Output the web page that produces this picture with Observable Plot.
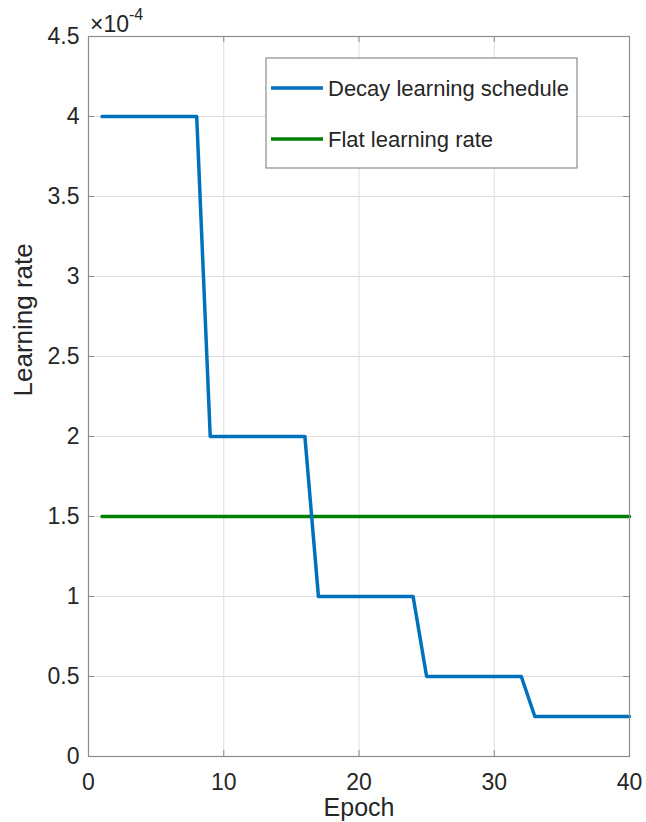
<!DOCTYPE html>
<html>
<head>
<meta charset="utf-8">
<script src="https://cdn.jsdelivr.net/npm/d3@7"></script>
<script src="https://cdn.jsdelivr.net/npm/@observablehq/plot@0.6"></script>
<style>
  html, body { margin: 0; padding: 0; background: #fff; }
  #chart svg { display: block; }
</style>
</head>
<body>
<div id="chart"></div>
<script>
// ---- data ----
const epochs = [1,2,3,4,5,6,7,8,9,10,11,12,13,14,15,16,17,18,19,20,
                21,22,23,24,25,26,27,28,29,30,31,32,33,34,35,36,37,38,39,40];
const decayRate = [
  4e-4,4e-4,4e-4,4e-4,4e-4,4e-4,4e-4,4e-4,
  2e-4,2e-4,2e-4,2e-4,2e-4,2e-4,2e-4,2e-4,
  1e-4,1e-4,1e-4,1e-4,1e-4,1e-4,1e-4,1e-4,
  0.5e-4,0.5e-4,0.5e-4,0.5e-4,0.5e-4,0.5e-4,0.5e-4,0.5e-4,
  0.25e-4,0.25e-4,0.25e-4,0.25e-4,0.25e-4,0.25e-4,0.25e-4,0.25e-4
];
const flatRate = [
  1.5e-4,1.5e-4,1.5e-4,1.5e-4,1.5e-4,1.5e-4,1.5e-4,1.5e-4,1.5e-4,1.5e-4,
  1.5e-4,1.5e-4,1.5e-4,1.5e-4,1.5e-4,1.5e-4,1.5e-4,1.5e-4,1.5e-4,1.5e-4,
  1.5e-4,1.5e-4,1.5e-4,1.5e-4,1.5e-4,1.5e-4,1.5e-4,1.5e-4,1.5e-4,1.5e-4,
  1.5e-4,1.5e-4,1.5e-4,1.5e-4,1.5e-4,1.5e-4,1.5e-4,1.5e-4,1.5e-4,1.5e-4
];
const seriesNames = ["Decay learning schedule", "Flat learning rate"];
const seriesColors = ["#0072BD", "#008000"];
const xTicks = [0, 10, 20, 30, 40];
const yTicks = [0, 0.5e-4, 1e-4, 1.5e-4, 2e-4, 2.5e-4, 3e-4, 3.5e-4, 4e-4, 4.5e-4];
const xLabel = "Epoch";
const yLabel = "Learning rate";
const expBase = "\u00d710";
const expPower = "-4";

// ---- table built from arrays ----
const decayData = epochs.map((e, i) => ({epoch: e, rate: decayRate[i]}));
const flatData = epochs.map((e, i) => ({epoch: e, rate: flatRate[i]}));

// ---- layout ----
const W = 646, H = 822;
const mL = 88, mR = 17, mT = 36, mB = 66;
const plotW = W - mL - mR, plotH = H - mT - mB;
const tickLen = 6;
const axisColor = "#8c8c8c";
const textColor = "#262626";
const font = "'Liberation Sans', Arial, Helvetica, sans-serif";

function legendMark(index, scales, values, dimensions) {
  const g = d3.create("svg:g");
  const right = dimensions.width - dimensions.marginRight - 52;
  const left = dimensions.marginLeft + 178;
  const top = dimensions.marginTop + 22;
  const bottom = top + 110;
  g.append("rect")
    .attr("x", left).attr("y", top)
    .attr("width", right - left).attr("height", bottom - top)
    .attr("fill", "#fff").attr("stroke", axisColor).attr("stroke-width", 1.2);
  seriesNames.forEach((name, i) => {
    const y = top + 30 + i * 51;
    g.append("line")
      .attr("x1", left + 5).attr("x2", left + 57)
      .attr("y1", y).attr("y2", y)
      .attr("stroke", seriesColors[i]).attr("stroke-width", 3.5);
    g.append("text")
      .attr("x", left + 62).attr("y", y)
      .attr("dy", "0.35em")
      .attr("text-anchor", "start")
      .attr("fill", textColor)
      .attr("font-size", 22)
      .attr("font-family", font)
      .text(name);
  });
  return g.node();
}

function exponentMark(index, scales, values, dimensions) {
  const g = d3.create("svg:g");
  const x0 = dimensions.marginLeft + 2;
  const t = g.append("text")
    .attr("x", x0).attr("y", dimensions.marginTop - 4)
    .attr("text-anchor", "start")
    .attr("fill", textColor)
    .attr("font-size", 23)
    .attr("font-family", font);
  t.append("tspan").text(expBase);
  t.append("tspan").attr("font-size", 16).attr("dy", -12).text(expPower);
  return g.node();
}

const chart = Plot.plot({
  width: W,
  height: H,
  marginLeft: mL,
  marginRight: mR,
  marginTop: mT,
  marginBottom: mB,
  style: {fontFamily: font, color: textColor, background: "#fff"},
  x: {domain: [0, 40]},
  y: {domain: [0, 4.5e-4]},
  marks: [
    Plot.gridX(xTicks, {stroke: "#dedede", strokeOpacity: 1}),
    Plot.gridY(yTicks, {stroke: "#dedede", strokeOpacity: 1}),
    // inward ticks on all four sides
    Plot.ruleX(xTicks, {x: d => d, insetTop: plotH - tickLen, stroke: axisColor}),
    Plot.ruleX(xTicks, {x: d => d, insetBottom: plotH - tickLen, stroke: axisColor}),
    Plot.ruleY(yTicks, {y: d => d, insetRight: plotW - tickLen, stroke: axisColor}),
    Plot.ruleY(yTicks, {y: d => d, insetLeft: plotW - tickLen, stroke: axisColor}),
    Plot.line(flatData, {x: "epoch", y: "rate", stroke: seriesColors[1], strokeWidth: 3.5}),
    Plot.line(decayData, {x: "epoch", y: "rate", stroke: seriesColors[0], strokeWidth: 3.5}),
    Plot.frame({stroke: axisColor, strokeWidth: 1.2}),
    Plot.axisX(xTicks, {
      tickSize: 0, tickPadding: 17, fontSize: 23, label: null,
      tickFormat: d => String(d), fill: textColor
    }),
    Plot.axisY(yTicks, {
      tickSize: 0, tickPadding: 9, fontSize: 23, label: null,
      tickFormat: d => String(+(d * 1e4).toFixed(2)), fill: textColor
    }),
    Plot.text([xLabel], {
      frameAnchor: "bottom", text: d => d, dy: 59, fontSize: 25, fill: textColor, lineAnchor: "bottom"
    }),
    Plot.text([yLabel], {
      frameAnchor: "left", text: d => d, dx: -65, rotate: -90, fontSize: 26, fill: textColor
    }),
    legendMark,
    exponentMark
  ]
});

document.getElementById("chart").appendChild(chart);
</script>
</body>
</html>
